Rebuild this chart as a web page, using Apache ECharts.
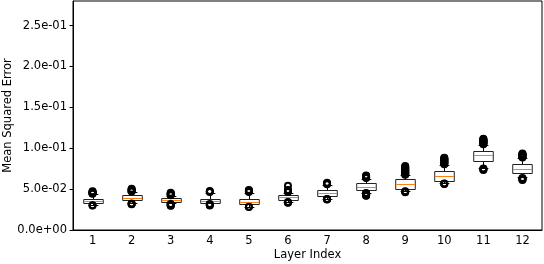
<!DOCTYPE html>
<html>
<head>
<meta charset="utf-8">
<script src="https://cdn.jsdelivr.net/npm/echarts@6/dist/echarts.min.js"></script>
<style>
html,body{margin:0;padding:0;background:#fff;}
#c{width:544px;height:264px;}
</style>
</head>
<body>
<div id="c"></div>
<script>
const categories = ['1','2','3','4','5','6','7','8','9','10','11','12'];
const q1        = [0.0328,0.0364,0.0340,0.0328,0.0319,0.0372,0.0413,0.0491,0.0507,0.0605,0.0838,0.0699];
const medians   = [0.0360,0.0396,0.0368,0.0356,0.0347,0.0401,0.0450,0.0531,0.0564,0.0663,0.0920,0.0745];
const q3        = [0.0384,0.0426,0.0396,0.0384,0.0376,0.0426,0.0491,0.0573,0.0622,0.0720,0.0966,0.0810];
const whiskerLo = [0.0307,0.0328,0.0325,0.0325,0.0286,0.0347,0.0384,0.0458,0.0479,0.0573,0.0757,0.0642];
const whiskerHi = [0.0436,0.0466,0.0417,0.0458,0.0458,0.0458,0.0552,0.0629,0.0671,0.0798,0.1043,0.0880];
const outliersHi = [
  [0.0442,0.0448,0.0453,0.0458,0.0463,0.0469,0.0475],
  [0.0472,0.0478,0.0484,0.0490,0.0496,0.0503],
  [0.0424,0.0430,0.0436,0.0442,0.0448,0.0455],
  [0.0464,0.0470,0.0476],
  [0.0466,0.0474,0.0482,0.0488],
  [0.0464,0.0470,0.0476,0.0482,0.0488,0.0540],
  [0.0558,0.0564,0.0570,0.0577],
  [0.0635,0.0641,0.0647,0.0653,0.0660,0.0666],
  [0.0677,0.0683,0.0689,0.0695,0.0701,0.0707,0.0713,0.0719,0.0725,0.0731,0.0737,0.0744,0.0751,0.0758,0.0766,0.0774,0.0782],
  [0.0804,0.0810,0.0816,0.0822,0.0828,0.0834,0.0840,0.0846,0.0852,0.0858,0.0864,0.0870,0.0876,0.0883],
  [0.1049,0.1055,0.1061,0.1067,0.1073,0.1079,0.1085,0.1091,0.1097,0.1103,0.1109,0.1117],
  [0.0886,0.0892,0.0898,0.0904,0.0910,0.0916,0.0922,0.0929,0.0936]
];
const outliersLo = [
  [0.0304,0.0301],
  [0.0323,0.0319,0.0315],
  [0.0318,0.0312,0.0306,0.0300,0.0295],
  [0.0318,0.0311,0.0305,0.0300],
  [0.0283,0.0280],
  [0.0342,0.0337,0.0333],
  [0.0380,0.0376,0.0372],
  [0.0452,0.0446,0.0440,0.0434,0.0428,0.0422,0.0418],
  [0.0473,0.0468,0.0463],
  [0.0569,0.0565,0.0561],
  [0.0752,0.0746,0.0740,0.0733],
  [0.0636,0.0630,0.0624,0.0617,0.0610]
];
const yTicks = [0, 0.05, 0.10, 0.15, 0.20, 0.25];

const boxData = categories.map((c, i) => [i, whiskerLo[i], q1[i], medians[i], q3[i], whiskerHi[i]]);
const outlierData = [];
categories.forEach((c, i) => {
  outliersHi[i].forEach(v => outlierData.push([i, v]));
  outliersLo[i].forEach(v => outlierData.push([i, v]));
});

function fmt(v) {
  if (Math.abs(v) < 1e-12) return '0.0e+00';
  const s = v.toExponential(1);
  const parts = s.split('e');
  let exp = parseInt(parts[1], 10);
  const sign = exp < 0 ? '-' : '+';
  exp = Math.abs(exp);
  return parts[0] + 'e' + sign + (exp < 10 ? '0' + exp : '' + exp);
}

function renderBox(params, api) {
  const idx = api.value(0);
  const band = api.size([1, 0])[0];
  const bw = band * 0.5;
  const cw = bw * 0.5;
  const pLo = api.coord([idx, api.value(1)]);
  const p1 = api.coord([idx, api.value(2)]);
  const pm = api.coord([idx, api.value(3)]);
  const p3 = api.coord([idx, api.value(4)]);
  const pHi = api.coord([idx, api.value(5)]);
  const x = Math.round(pm[0]) + 0.5;
  const r = v => Math.round(v) + 0.5;
  const stroke = {stroke: '#000', lineWidth: 1, fill: null};
  return {
    type: 'group',
    children: [
      {type: 'line', shape: {x1: x, y1: r(p3[1]), x2: x, y2: r(pHi[1])}, style: stroke},
      {type: 'line', shape: {x1: x, y1: r(p1[1]), x2: x, y2: r(pLo[1])}, style: stroke},
      {type: 'line', shape: {x1: x - cw / 2, y1: r(pHi[1]), x2: x + cw / 2, y2: r(pHi[1])}, style: stroke},
      {type: 'line', shape: {x1: x - cw / 2, y1: r(pLo[1]), x2: x + cw / 2, y2: r(pLo[1])}, style: stroke},
      {type: 'rect', shape: {x: x - bw / 2, y: r(p3[1]), width: bw, height: r(p1[1]) - r(p3[1])},
        style: {stroke: '#222', lineWidth: 1, fill: '#fff'}},
      {type: 'line', shape: {x1: x - bw / 2 + 0.5, y1: r(pm[1]), x2: x + bw / 2 - 0.5, y2: r(pm[1])},
        style: {stroke: '#ff7f0e', lineWidth: 1}}
    ]
  };
}

const font = 'DejaVu Sans';
const chart = echarts.init(document.getElementById('c'), null, {renderer: 'canvas'});
chart.setOption({
  animation: false,
  backgroundColor: '#fff',
  grid: {left: 73, right: 2, top: 1, bottom: 34, show: true, borderColor: '#000', borderWidth: 1,
    backgroundColor: 'transparent', containLabel: false, outerBoundsMode: 'none'},
  xAxis: {
    type: 'category',
    data: categories,
    boundaryGap: true,
    name: 'Layer Index',
    nameLocation: 'middle',
    nameGap: 19,
    nameMoveOverlap: false,
    nameTextStyle: {fontFamily: font, fontSize: 11.5, color: '#000'},
    axisLine: {lineStyle: {color: '#000', width: 1}},
    axisTick: {alignWithLabel: true, length: 3.5, lineStyle: {color: '#000'}},
    axisLabel: {fontFamily: font, fontSize: 11.5, color: '#000', margin: 5},
    splitLine: {show: false}
  },
  yAxis: {
    type: 'value',
    min: 0,
    max: 0.28,
    interval: 0.05,
    name: 'Mean Squared Error',
    nameLocation: 'middle',
    nameGap: 59,
    nameMoveOverlap: false,
    nameTextStyle: {fontFamily: font, fontSize: 11.5, color: '#000'},
    axisLine: {show: true, lineStyle: {color: '#000', width: 1}},
    axisTick: {show: true, length: 3.5, lineStyle: {color: '#000'}, customValues: yTicks},
    axisLabel: {fontFamily: font, fontSize: 11.5, color: '#000', margin: 6, formatter: fmt,
      customValues: yTicks},
    splitLine: {show: false}
  },
  series: [
    {
      type: 'custom',
      renderItem: renderBox,
      data: boxData,
      encode: {x: 0, y: [1, 2, 3, 4, 5]},
      z: 2
    },
    {
      type: 'scatter',
      data: outlierData,
      symbol: 'circle',
      symbolSize: 6,
      itemStyle: {color: 'rgba(0,0,0,0)', borderColor: '#000', borderWidth: 2, opacity: 1},
      z: 3
    }
  ]
});
</script>
</body>
</html>
